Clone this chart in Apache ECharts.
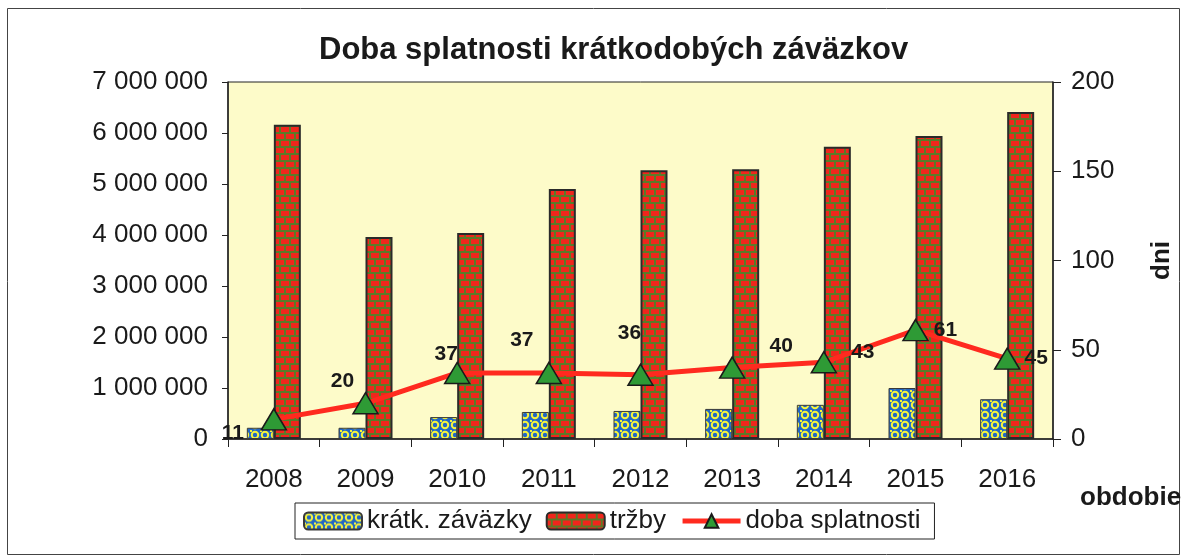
<!DOCTYPE html>
<html>
<head>
<meta charset="utf-8">
<script src="https://cdn.jsdelivr.net/npm/echarts@6/dist/echarts.min.js"></script>
<style>
  html, body { margin: 0; padding: 0; background: #fff; }
  #chart { width: 1186px; height: 560px; }
</style>
</head>
<body>
<div id="chart"></div>
<script>
// data
var roky = ['2008', '2009', '2010', '2011', '2012', '2013', '2014', '2015', '2016'];
var kratkZavazky = [220000, 220000, 430000, 530000, 550000, 590000, 670000, 1000000, 780000];
var trzby = [6160000, 3960000, 4040000, 4900000, 5270000, 5290000, 5730000, 5940000, 6410000];
var dobaSplatnosti = [11, 20, 37, 37, 36, 40, 43, 61, 45];

// label offsets like in the excel original
var labelOffsets = [[-41, 14], [-23, -22], [-11, -19], [-27, -33], [-11, -42], [49, -21], [39, -10], [30, 0], [29, 0]];

function brickPattern() {
  var c = document.createElement('canvas');
  c.width = 20; c.height = 14;
  var g = c.getContext('2d');
  g.fillStyle = '#5c7a28';
  g.fillRect(0, 0, 20, 14);
  g.fillStyle = '#f0261c';
  g.fillRect(1, 1, 8, 5);
  g.fillRect(11, 1, 8, 5);
  g.fillRect(0, 8, 4, 5);
  g.fillRect(6, 8, 8, 5);
  g.fillRect(16, 8, 4, 5);
  return c;
}

function dotPattern() {
  var c = document.createElement('canvas');
  c.width = 10; c.height = 10;
  var g = c.getContext('2d');
  g.fillStyle = '#2368c4';
  g.fillRect(0, 0, 10, 10);
  g.strokeStyle = '#f6f43c';
  g.lineWidth = 2;
  g.beginPath();
  g.arc(5, 5, 3.2, 0, Math.PI * 2);
  g.stroke();
  g.fillStyle = '#f6f43c';
  g.fillRect(0, 0, 2, 2);
  return c;
}

function medzery(v) {
  return String(v).replace(/\B(?=(\d{3})+(?!\d))/g, ' ');
}

var mychart = echarts.init(document.getElementById('chart'));
mychart.setOption({
  animation: false,
  textStyle: { fontFamily: 'Liberation Sans, Arial, sans-serif' },
  title: {
    text: 'Doba splatnosti krátkodobých záväzkov',
    left: 314,
    top: 30,
    textStyle: { fontSize: 31, fontWeight: 'bold', color: '#1a1a1a' }
  },
  graphic: [
    {
      type: 'rect',
      shape: { x: 7.5, y: 8.5, width: 1172, height: 546 },
      style: { fill: 'none', stroke: '#444', lineWidth: 1 },
      silent: true
    },
    {
      type: 'text',
      left: 1080,
      top: 485,
      style: { text: 'obdobie', font: 'bold 26px Liberation Sans, Arial, sans-serif', fill: '#1a1a1a' }
    }
  ],
  legend: {
    left: 295,
    top: 503,
    padding: [5, 14, 5, 8],
    itemGap: 14,
    itemWidth: 58,
    itemHeight: 17,
    borderColor: '#222',
    borderWidth: 1,
    lineStyle: { width: 5 },
    textStyle: { fontSize: 26, color: '#1a1a1a' },
    data: ['krátk. záväzky', 'tržby', 'doba splatnosti']
  },
  grid: {
    left: 228,
    right: 133,
    top: 82,
    bottom: 121,
    show: true,
    backgroundColor: '#fdfbc9',
    borderColor: '#222',
    borderWidth: 1
  },
  xAxis: [{
    type: 'category',
    data: roky,
    axisLine: { lineStyle: { color: '#222', width: 1.5 } },
    axisTick: { show: true, length: 8, lineStyle: { color: '#222' } },
    axisLabel: { fontSize: 26, color: '#1a1a1a', margin: 28 }
  }],
  yAxis: [{
    type: 'value',
    min: 0,
    max: 7000000,
    interval: 1000000,
    axisLine: { show: true, lineStyle: { color: '#222', width: 1.5 } },
    axisTick: { show: true, length: 6, lineStyle: { color: '#222' } },
    splitLine: { show: false },
    axisLabel: { fontSize: 26, color: '#1a1a1a', margin: 20, formatter: medzery }
  }, {
    type: 'value',
    min: 0,
    max: 200,
    interval: 50,
    position: 'right',
    name: 'dni',
    nameLocation: 'middle',
    nameRotate: 90,
    nameGap: 96,
    nameTextStyle: { fontSize: 26, fontWeight: 'bold', color: '#1a1a1a' },
    axisLine: { show: true, lineStyle: { color: '#222', width: 1.5 } },
    axisTick: { show: true, length: 8, lineStyle: { color: '#222' } },
    splitLine: { show: false },
    axisLabel: { fontSize: 26, color: '#1a1a1a', margin: 18 }
  }],
  series: [{
    name: 'krátk. záväzky',
    type: 'bar',
    barWidth: 27,
    barGap: '0%',
    itemStyle: {
      color: { image: dotPattern(), repeat: 'repeat' },
      borderColor: '#3a3a3a',
      borderWidth: 1
    },
    data: kratkZavazky
  }, {
    name: 'tržby',
    type: 'bar',
    barWidth: 27,
    barGap: '0%',
    itemStyle: {
      color: { image: brickPattern(), repeat: 'repeat' },
      borderColor: '#2a2a2a',
      borderWidth: 2
    },
    data: trzby
  }, {
    name: 'doba splatnosti',
    type: 'line',
    yAxisIndex: 1,
    symbol: 'triangle',
    symbolSize: [25, 21],
    lineStyle: { color: '#ff2a1f', width: 5 },
    itemStyle: { color: '#2e9a35', borderColor: '#1a1a1a', borderWidth: 1.5 },
    z: 5,
    data: dobaSplatnosti.map(function (v, i) {
      return {
        value: v,
        label: { offset: labelOffsets[i] }
      };
    }),
    label: {
      show: true,
      position: 'inside',
      fontSize: 21,
      fontWeight: 'bold',
      color: '#1a1a1a'
    }
  }]
});
</script>
</body>
</html>
